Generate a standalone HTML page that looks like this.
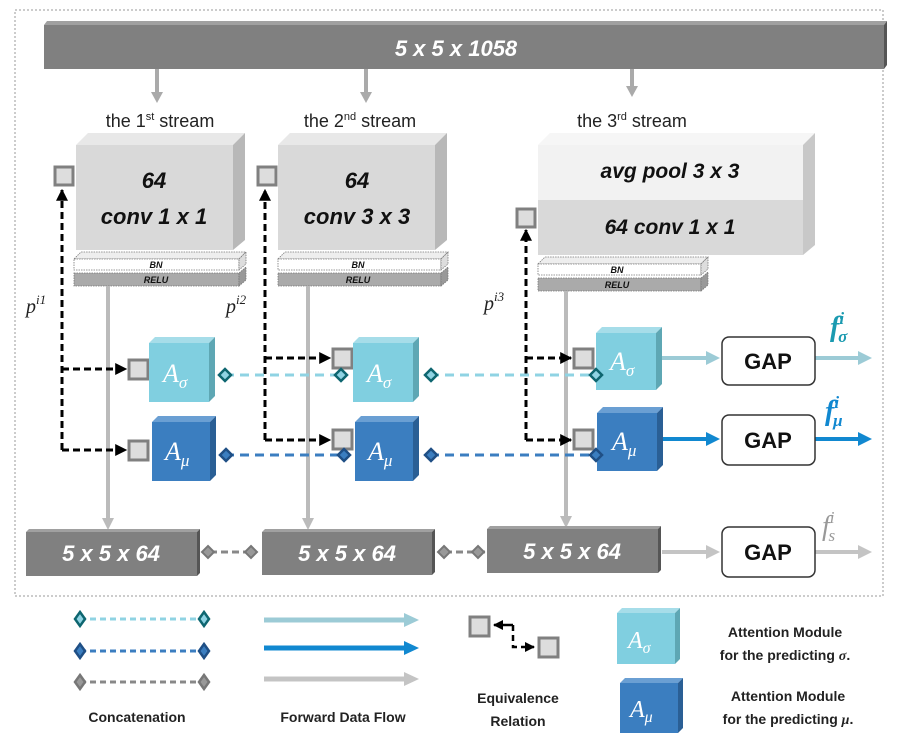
<!DOCTYPE html>
<html><head><meta charset="utf-8"><style>
html,body{margin:0;padding:0;background:#fff;}
svg{display:block;font-family:"Liberation Sans",sans-serif;}
.w{fill:#fff;font-style:italic;font-weight:bold;}
.k{fill:#111;font-style:italic;font-weight:bold;}
.m{font-family:"Liberation Serif",serif;font-style:italic;}
</style></head><body>
<svg width="908" height="752" viewBox="0 0 908 752" xmlns="http://www.w3.org/2000/svg">
<defs>
<marker id="ab" viewBox="0 0 10 10" refX="9" refY="5" markerWidth="4" markerHeight="4" orient="auto"><path d="M0,0L10,5L0,10z" fill="#000"/></marker>
</defs>
<rect x="15" y="10" width="868" height="586" fill="none" stroke="#999" stroke-dasharray="2,2"/>

<!-- top bar -->
<polygon points="44,25 47,21 887,21 884,25" fill="#a0a0a0"/>
<polygon points="884,25 887,21 887,65 884,69" fill="#555"/>
<rect x="44" y="25" width="840" height="44" fill="#808080"/>
<text x="456" y="56" class="w" font-size="22" text-anchor="middle">5 x 5 x 1058</text>

<!-- top arrows -->
<g stroke="#aaa" stroke-width="4"><line x1="157" y1="69" x2="157" y2="93"/><line x1="366" y1="69" x2="366" y2="93"/><line x1="632" y1="69" x2="632" y2="87"/></g>
<g fill="#aaa"><polygon points="151,92 163,92 157,103"/><polygon points="360,92 372,92 366,103"/><polygon points="626,86 638,86 632,97"/></g>

<!-- stream labels -->
<text x="160" y="127" font-size="18" text-anchor="middle" fill="#222">the 1<tspan font-size="11" dy="-7">st</tspan><tspan dy="7"> stream</tspan></text>
<text x="360" y="127" font-size="18" text-anchor="middle" fill="#222">the 2<tspan font-size="11" dy="-7">nd</tspan><tspan dy="7"> stream</tspan></text>
<text x="632" y="127" font-size="18" text-anchor="middle" fill="#222">the 3<tspan font-size="11" dy="-7">rd</tspan><tspan dy="7"> stream</tspan></text>

<!-- box1 -->
<polygon points="76,145 88,133 245,133 233,145" fill="#e8e8e8"/>
<polygon points="233,145 245,133 245,240 233,250" fill="#b8b8b8"/>
<rect x="76" y="145" width="157" height="105" fill="#d9d9d9"/>
<text x="154" y="188" class="k" font-size="22" text-anchor="middle">64</text>
<text x="154" y="224" class="k" font-size="22" text-anchor="middle">conv  1 x 1</text>
<!-- box2 -->
<polygon points="278,145 290,133 447,133 435,145" fill="#e8e8e8"/>
<polygon points="435,145 447,133 447,240 435,250" fill="#b8b8b8"/>
<rect x="278" y="145" width="157" height="105" fill="#d9d9d9"/>
<text x="357" y="188" class="k" font-size="22" text-anchor="middle">64</text>
<text x="357" y="224" class="k" font-size="22" text-anchor="middle">conv  3 x 3</text>
<!-- box3 -->
<polygon points="538,145 550,133 815,133 803,145" fill="#f6f6f6"/>
<polygon points="803,145 815,133 815,245 803,255" fill="#c8c8c8"/>
<rect x="538" y="145" width="265" height="55" fill="#f2f2f2"/>
<rect x="538" y="200" width="265" height="55" fill="#d9d9d9"/>
<text x="670" y="178" class="k" font-size="21" text-anchor="middle">avg pool 3 x 3</text>
<text x="670" y="234" class="k" font-size="21" text-anchor="middle">64 conv 1 x 1</text>

<!-- BN/RELU -->
<g stroke="#777" stroke-width="0.8" stroke-dasharray="1.5,1">
<polygon points="74,259 81,252 246,252 239,259" fill="#eee"/><rect x="74" y="259" width="165" height="11" fill="#fff"/><polygon points="239,259 246,252 246,264 239,270" fill="#ddd"/>
<rect x="74" y="273" width="165" height="13" fill="#aaa"/><polygon points="239,273 246,267 246,280 239,286" fill="#999"/>
<polygon points="278,259 285,252 448,252 441,259" fill="#eee"/><rect x="278" y="259" width="163" height="11" fill="#fff"/><polygon points="441,259 448,252 448,264 441,270" fill="#ddd"/>
<rect x="278" y="273" width="163" height="13" fill="#aaa"/><polygon points="441,273 448,267 448,280 441,286" fill="#999"/>
<polygon points="538,264 545,257 708,257 701,264" fill="#eee"/><rect x="538" y="264" width="163" height="11" fill="#fff"/><polygon points="701,264 708,257 708,269 701,275" fill="#ddd"/>
<rect x="538" y="278" width="163" height="13" fill="#aaa"/><polygon points="701,278 708,272 708,285 701,291" fill="#999"/>
</g>
<g font-size="9" class="k" text-anchor="middle"><text x="156" y="268">BN</text><text x="156" y="283">RELU</text><text x="358" y="268">BN</text><text x="358" y="283">RELU</text><text x="617" y="273">BN</text><text x="617" y="288">RELU</text></g>

<!-- vertical gray lines to bottom -->
<g stroke="#bbb" stroke-width="4"><line x1="108" y1="286" x2="108" y2="520"/><line x1="308" y1="286" x2="308" y2="520"/><line x1="566" y1="291" x2="566" y2="518"/></g>
<g fill="#bbb"><polygon points="102,518 114,518 108,530"/><polygon points="302,518 314,518 308,530"/><polygon points="560,516 572,516 566,528"/></g>

<!-- dashed equivalence lines -->
<g stroke="#000" stroke-width="3" stroke-dasharray="7,4" fill="none" marker-end="url(#ab)">
<path d="M62,450 L62,190"/><path d="M62,369 L126,369"/><path d="M62,450 L126,450"/>
<path d="M265,440 L265,190"/><path d="M265,358 L330,358"/><path d="M265,440 L330,440"/>
<path d="M526,440 L526,230"/><path d="M526,358 L571,358"/><path d="M526,440 L571,440"/>
</g>
<g fill="#ddd" stroke="#808080" stroke-width="3">
<rect x="55" y="167" width="18" height="18"/><rect x="258" y="167" width="18" height="18"/><rect x="517" y="209" width="18" height="18"/>
<rect x="129" y="360" width="19" height="19"/><rect x="129" y="441" width="19" height="19"/>
<rect x="333" y="349" width="19" height="19"/><rect x="333" y="430" width="19" height="19"/>
<rect x="574" y="349" width="19" height="19"/><rect x="574" y="430" width="19" height="19"/>
</g>
<g class="m" font-size="20" fill="#222">
<text x="26" y="313">p<tspan font-size="13" dy="-9">i1</tspan></text>
<text x="226" y="313">p<tspan font-size="13" dy="-9">i2</tspan></text>
<text x="484" y="310">p<tspan font-size="13" dy="-9">i3</tspan></text>
</g>

<!-- concat dashed lines -->
<g stroke-width="3" stroke-dasharray="9,6">
<line x1="225" y1="375" x2="340" y2="375" stroke="#8fd3e3"/><line x1="430" y1="375" x2="595" y2="375" stroke="#8fd3e3"/>
<line x1="225" y1="455" x2="340" y2="455" stroke="#3b7ec0"/><line x1="430" y1="455" x2="595" y2="455" stroke="#3b7ec0"/>
</g>

<!-- A sigma modules -->
<g>
<polygon points="149,343 155,337 215,337 209,343" fill="#a6dde9"/><polygon points="209,343 215,337 215,396 209,402" fill="#5ea7b4"/><rect x="149" y="343" width="60" height="59" fill="#80cfe0"/>
<polygon points="353,343 359,337 419,337 413,343" fill="#a6dde9"/><polygon points="413,343 419,337 419,396 413,402" fill="#5ea7b4"/><rect x="353" y="343" width="60" height="59" fill="#80cfe0"/>
<polygon points="596,333 602,327 662,327 656,333" fill="#a6dde9"/><polygon points="656,333 662,327 662,384 656,390" fill="#5ea7b4"/><rect x="596" y="333" width="60" height="57" fill="#80cfe0"/>
</g>
<g>
<polygon points="152,422 158,416 216,416 210,422" fill="#6a9fd3"/><polygon points="210,422 216,416 216,475 210,481" fill="#2a5f95"/><rect x="152" y="422" width="58" height="59" fill="#3b7ec0"/>
<polygon points="355,422 361,416 419,416 413,422" fill="#6a9fd3"/><polygon points="413,422 419,416 419,475 413,481" fill="#2a5f95"/><rect x="355" y="422" width="58" height="59" fill="#3b7ec0"/>
<polygon points="597,413 603,407 663,407 657,413" fill="#6a9fd3"/><polygon points="657,413 663,407 663,465 657,471" fill="#2a5f95"/><rect x="597" y="413" width="60" height="58" fill="#3b7ec0"/>
</g>
<g class="m" fill="#fff" font-size="26">
<text x="163" y="382">A<tspan font-size="17" dy="6">σ</tspan></text>
<text x="367" y="382">A<tspan font-size="17" dy="6">σ</tspan></text>
<text x="610" y="370">A<tspan font-size="17" dy="6">σ</tspan></text>
<text x="165" y="460">A<tspan font-size="17" dy="6">μ</tspan></text>
<text x="368" y="460">A<tspan font-size="17" dy="6">μ</tspan></text>
<text x="612" y="450">A<tspan font-size="17" dy="6">μ</tspan></text>
</g>
<!-- diamonds -->
<g stroke-width="2.5">
<g fill="#8fd3e3" stroke="#0e6670">
<polygon points="225,369 231,375 225,381 219,375"/><polygon points="341,369 347,375 341,381 335,375"/><polygon points="431,369 437,375 431,381 425,375"/><polygon points="596,369 602,375 596,381 590,375"/>
</g>
<g fill="#3b7ec0" stroke="#1f4f85">
<polygon points="226,449 232,455 226,461 220,455"/><polygon points="344,449 350,455 344,461 338,455"/><polygon points="431,449 437,455 431,461 425,455"/><polygon points="596,449 602,455 596,461 590,455"/>
</g>
</g>

<!-- arrows to GAP -->
<line x1="662" y1="358" x2="708" y2="358" stroke="#9ccbd6" stroke-width="4"/><polygon points="706,351 720,358 706,365" fill="#9ccbd6"/>
<line x1="815" y1="358" x2="860" y2="358" stroke="#9ccbd6" stroke-width="4"/><polygon points="858,351 872,358 858,365" fill="#9ccbd6"/>
<line x1="663" y1="439" x2="708" y2="439" stroke="#1188d0" stroke-width="4"/><polygon points="706,432 720,439 706,446" fill="#1188d0"/>
<line x1="815" y1="439" x2="860" y2="439" stroke="#1188d0" stroke-width="4"/><polygon points="858,432 872,439 858,446" fill="#1188d0"/>
<line x1="662" y1="552" x2="708" y2="552" stroke="#c4c4c4" stroke-width="4"/><polygon points="706,545 720,552 706,559" fill="#c4c4c4"/>
<line x1="815" y1="552" x2="860" y2="552" stroke="#c4c4c4" stroke-width="4"/><polygon points="858,545 872,552 858,559" fill="#c4c4c4"/>

<g fill="#fff" stroke="#333" stroke-width="1.5">
<rect x="722" y="337" width="93" height="48" rx="7"/><rect x="722" y="415" width="93" height="50" rx="7"/><rect x="722" y="527" width="93" height="50" rx="7"/>
</g>
<g font-size="22" font-weight="bold" text-anchor="middle" fill="#111">
<text x="768" y="369">GAP</text><text x="768" y="448">GAP</text><text x="768" y="560">GAP</text>
</g>
<g class="m" font-weight="bold" font-size="28">
<text x="830" y="336" fill="#1a9ab0">f<tspan font-size="17" dy="-12">i</tspan><tspan font-size="17" dx="-6" dy="18">σ</tspan></text>
<text x="825" y="420" fill="#1188d0">f<tspan font-size="17" dy="-12">i</tspan><tspan font-size="17" dx="-6" dy="18">μ</tspan></text>
</g>
<text x="822" y="535" class="m" font-size="28" fill="#999">f<tspan font-size="17" dy="-12">i</tspan><tspan font-size="17" dx="-6" dy="18">s</tspan></text>

<!-- bottom boxes -->
<g>
<polygon points="26,532 29,529 200,529 197,532" fill="#a0a0a0"/><polygon points="197,532 200,529 200,573 197,576" fill="#555"/><rect x="26" y="532" width="171" height="44" fill="#808080"/>
<polygon points="262,532 265,529 435,529 432,532" fill="#a0a0a0"/><polygon points="432,532 435,529 435,572 432,575" fill="#555"/><rect x="262" y="532" width="170" height="43" fill="#808080"/>
<polygon points="487,529 490,526 661,526 658,529" fill="#a0a0a0"/><polygon points="658,529 661,526 661,570 658,573" fill="#555"/><rect x="487" y="529" width="171" height="44" fill="#808080"/>
</g>
<g class="w" font-size="22" text-anchor="middle"><text x="111" y="561">5 x 5 x 64</text><text x="347" y="561">5 x 5 x 64</text><text x="572" y="559">5 x 5 x 64</text></g>
<g stroke="#888" stroke-width="3" stroke-dasharray="7,4"><line x1="210" y1="552" x2="250" y2="552"/><line x1="445" y1="552" x2="485" y2="552"/></g>
<g fill="#999" stroke="#777" stroke-width="2">
<polygon points="208,546 214,552 208,558 202,552"/><polygon points="251,546 257,552 251,558 245,552"/>
<polygon points="444,546 450,552 444,558 438,552"/><polygon points="478,546 484,552 478,558 472,552"/>
</g>

<!-- legend -->
<g stroke-width="3" stroke-dasharray="6,4">
<line x1="80" y1="619" x2="205" y2="619" stroke="#8fd3e3"/>
<line x1="80" y1="651" x2="205" y2="651" stroke="#3b7ec0"/>
<line x1="80" y1="682" x2="205" y2="682" stroke="#888"/>
</g>
<g stroke-width="2.5">
<polygon points="80,612 85,619 80,626 75,619" fill="#8fd3e3" stroke="#0e6670"/><polygon points="204,612 209,619 204,626 199,619" fill="#8fd3e3" stroke="#0e6670"/>
<polygon points="80,644 85,651 80,658 75,651" fill="#3b7ec0" stroke="#1f4f85"/><polygon points="204,644 209,651 204,658 199,651" fill="#3b7ec0" stroke="#1f4f85"/>
<polygon points="80,675 85,682 80,689 75,682" fill="#999" stroke="#777"/><polygon points="204,675 209,682 204,689 199,682" fill="#999" stroke="#777"/>
</g>
<text x="137" y="722" font-size="14" font-weight="bold" text-anchor="middle" fill="#222">Concatenation</text>

<line x1="264" y1="620" x2="406" y2="620" stroke="#9ccbd6" stroke-width="5"/><polygon points="404,613 419,620 404,627" fill="#9ccbd6"/>
<line x1="264" y1="648" x2="406" y2="648" stroke="#1188d0" stroke-width="5"/><polygon points="404,641 419,648 404,655" fill="#1188d0"/>
<line x1="264" y1="679" x2="406" y2="679" stroke="#c4c4c4" stroke-width="5"/><polygon points="404,672 419,679 404,686" fill="#c4c4c4"/>
<text x="343" y="722" font-size="14" font-weight="bold" text-anchor="middle" fill="#222">Forward Data Flow</text>

<path d="M513,625 L513,647 L534,647" stroke="#000" stroke-width="2.5" stroke-dasharray="6,4" fill="none" marker-end="url(#ab)"/>
<path d="M513,625 L494,625" stroke="#000" stroke-width="2.5" fill="none" marker-end="url(#ab)"/>
<rect x="470" y="617" width="19" height="19" fill="#ddd" stroke="#808080" stroke-width="3"/>
<rect x="539" y="638" width="19" height="19" fill="#ddd" stroke="#808080" stroke-width="3"/>
<text x="518" y="703" font-size="14" font-weight="bold" text-anchor="middle" fill="#222">Equivalence</text>
<text x="518" y="726" font-size="14" font-weight="bold" text-anchor="middle" fill="#222">Relation</text>

<polygon points="617,613 622,608 680,608 675,613" fill="#a6dde9"/><polygon points="675,613 680,608 680,659 675,664" fill="#5ea7b4"/><rect x="617" y="613" width="58" height="51" fill="#80cfe0"/>
<polygon points="620,683 625,678 683,678 678,683" fill="#6a9fd3"/><polygon points="678,683 683,678 683,728 678,733" fill="#2a5f95"/><rect x="620" y="683" width="58" height="50" fill="#3b7ec0"/>
<text x="628" y="648" class="m" font-size="24" fill="#fff">A<tspan font-size="16" dy="5">σ</tspan></text>
<text x="630" y="717" class="m" font-size="24" fill="#fff">A<tspan font-size="16" dy="5">μ</tspan></text>
<g font-size="14" font-weight="bold" text-anchor="middle" fill="#222">
<text x="785" y="637">Attention Module</text><text x="785" y="660">for the predicting <tspan class="m">σ</tspan>.</text>
<text x="788" y="701">Attention Module</text><text x="788" y="724">for the predicting <tspan class="m">μ</tspan>.</text>
</g>
</svg>
</body></html>
